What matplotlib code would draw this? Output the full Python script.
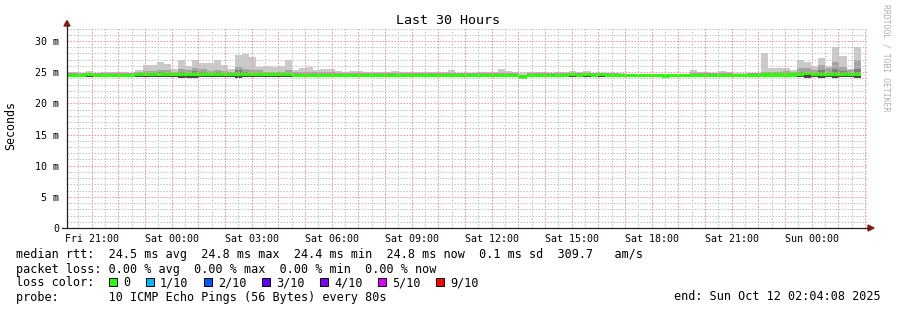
import matplotlib
matplotlib.use("Agg")
import matplotlib.pyplot as plt
from matplotlib.patches import Rectangle, Polygon
from matplotlib.lines import Line2D

W, H = 897, 310
MONO = "DejaVu Sans Mono"

# smokeping rtt data, 16 min buckets, values in ms
# first bucket starts 0.1 h before the graph start (Fri 20:04:08)
bar_start = -0.1
bar_step = 16 / 60.0

med = [24.5, 24.5, 24.5, 24.6, 24.5, 24.5, 24.5, 24.5, 24.5, 24.5,
       24.6, 24.6, 24.6, 24.6, 24.6, 24.6, 24.6, 24.6, 24.6, 24.6,
       24.6, 24.6, 24.6, 24.6, 24.6, 24.6, 24.6, 24.6, 24.6, 24.6,
       24.6, 24.6, 24.5, 24.5, 24.5, 24.5, 24.5, 24.5, 24.5, 24.5,
       24.5, 24.5, 24.5, 24.5, 24.5, 24.5, 24.5, 24.5, 24.5, 24.5,
       24.5, 24.5, 24.5, 24.5, 24.5, 24.5, 24.5, 24.5, 24.5, 24.5,
       24.5, 24.5, 24.5, 24.5, 24.2, 24.5, 24.5, 24.5, 24.5, 24.5,
       24.5, 24.65, 24.5, 24.65, 24.5, 24.65, 24.5, 24.5, 24.5, 24.5,
       24.5, 24.5, 24.5, 24.5, 24.4, 24.5, 24.5, 24.5, 24.5, 24.5,
       24.5, 24.45, 24.45, 24.45, 24.45, 24.45, 24.45, 24.45, 24.55, 24.55,
       24.55, 24.55, 24.55, 24.6, 24.75, 24.6, 24.6, 24.6, 24.6, 24.6,
       24.6, 24.6]

hi = [25.0, 25.0, 24.9, 25.2, 24.9, 25.0, 25.0, 25.1, 25.0, 24.9,
      25.4, 26.1, 26.2, 26.7, 26.3, 25.5, 26.9, 26.0, 27.0, 26.5,
      26.4, 27.0, 26.1, 25.5, 27.8, 27.9, 27.5, 25.9, 26.0, 25.9,
      26.0, 27.0, 25.3, 25.7, 25.8, 25.4, 25.5, 25.5, 25.2, 25.1,
      25.2, 25.2, 25.1, 25.0, 25.1, 25.1, 25.2, 25.1, 25.1, 25.1,
      25.0, 25.0, 25.1, 25.0, 25.4, 24.9, 24.9, 24.9, 25.0, 25.1,
      25.1, 25.5, 25.2, 25.1, 24.8, 25.0, 25.1, 25.0, 24.9, 25.1,
      25.0, 25.2, 25.1, 25.2, 24.9, 24.9, 24.9, 24.9, 24.8, 24.7,
      24.7, 24.7, 24.7, 24.7, 24.7, 24.7, 24.7, 24.7, 25.4, 25.0,
      25.0, 24.9, 25.2, 25.0, 24.8, 24.8, 24.9, 24.9, 28.1, 25.6,
      25.7, 25.7, 25.3, 26.9, 26.6, 26.0, 27.3, 26.0, 29.1, 27.6,
      25.5, 29.1]

mid = [24.8, 24.8, 24.8, 24.9, 24.8, 24.8, 24.8, 24.8, 24.8, 24.8,
       25.0, 25.2, 25.2, 25.4, 25.3, 25.1, 25.5, 25.3, 25.6, 25.5,
       25.2, 25.3, 25.2, 25.0, 25.9, 25.5, 25.3, 25.3, 25.1, 25.0,
       25.0, 25.3, 25.0, 25.0, 25.0, 25.0, 25.0, 25.0, 24.9, 24.8,
       24.8, 24.8, 24.8, 24.8, 24.8, 24.8, 24.9, 24.8, 24.8, 24.8,
       24.8, 24.8, 24.8, 24.8, 24.9, 24.8, 24.8, 24.8, 24.8, 24.8,
       24.8, 24.9, 24.8, 24.8, 24.6, 24.8, 24.8, 24.8, 24.8, 24.8,
       24.8, 24.9, 24.8, 24.9, 24.8, 24.8, 24.8, 24.8, 24.7, 24.7,
       24.7, 24.7, 24.7, 24.7, 24.7, 24.7, 24.7, 24.7, 24.9, 24.8,
       24.8, 24.8, 24.9, 24.8, 24.7, 24.7, 24.8, 24.8, 25.0, 25.0,
       25.1, 25.2, 25.0, 25.7, 25.6, 25.4, 26.2, 25.7, 26.7, 25.8,
       25.3, 26.9]

dk = [24.7, 24.7, 24.7, 24.8, 24.7, 24.7, 24.7, 24.7, 24.7, 24.7,
      24.8, 24.9, 24.9, 25.0, 24.9, 24.8, 25.1, 24.9, 25.2, 25.0,
      24.9, 25.0, 24.9, 24.8, 25.3, 25.0, 24.9, 24.9, 24.8, 24.8,
      24.8, 24.9, 24.7, 24.7, 24.7, 24.7, 24.7, 24.7, 24.7, 24.7,
      24.7, 24.7, 24.7, 24.7, 24.7, 24.7, 24.7, 24.7, 24.7, 24.7,
      24.7, 24.7, 24.7, 24.7, 24.7, 24.7, 24.7, 24.7, 24.7, 24.7,
      24.7, 24.7, 24.7, 24.7, 24.4, 24.7, 24.7, 24.7, 24.7, 24.7,
      24.7, 24.8, 24.7, 24.8, 24.7, 24.8, 24.7, 24.7, 24.7, 24.7,
      24.7, 24.7, 24.7, 24.7, 24.6, 24.7, 24.7, 24.7, 24.7, 24.7,
      24.7, 24.6, 24.6, 24.6, 24.6, 24.6, 24.6, 24.6, 24.8, 24.8,
      24.8, 24.8, 24.8, 25.1, 25.0, 24.9, 25.3, 24.9, 25.5, 25.2,
      24.9, 25.5]

lo = [24.3, 24.3, 24.3, 24.3, 24.3, 24.3, 24.3, 24.3, 24.3, 24.3,
      24.3, 24.3, 24.3, 24.2, 24.3, 24.3, 24.1, 24.1, 24.1, 24.2,
      24.3, 24.2, 24.3, 24.3, 24.1, 24.2, 24.3, 24.3, 24.3, 24.3,
      24.3, 24.2, 24.3, 24.3, 24.3, 24.3, 24.3, 24.3, 24.3, 24.3,
      24.3, 24.3, 24.3, 24.3, 24.3, 24.3, 24.3, 24.3, 24.3, 24.3,
      24.3, 24.3, 24.3, 24.3, 24.3, 24.3, 24.3, 24.3, 24.3, 24.3,
      24.3, 24.3, 24.3, 24.3, 23.95, 24.3, 24.3, 24.3, 24.3, 24.3,
      24.3, 24.3, 24.3, 24.3, 24.3, 24.3, 24.3, 24.3, 24.3, 24.3,
      24.3, 24.3, 24.3, 24.3, 24.2, 24.3, 24.3, 24.3, 24.3, 24.3,
      24.3, 24.25, 24.25, 24.25, 24.25, 24.25, 24.25, 24.25, 24.3, 24.3,
      24.3, 24.3, 24.3, 24.2, 24.1, 24.2, 24.1, 24.2, 24.0, 24.2,
      24.2, 24.0]

# x axis: hours since Fri 20:04:08
tick_hours = [0.931 + 3 * i for i in range(10)]
tick_labels = ["Fri 21:00", "Sat 00:00", "Sat 03:00", "Sat 06:00", "Sat 09:00",
               "Sat 12:00", "Sat 15:00", "Sat 18:00", "Sat 21:00", "Sun 00:00"]
y_ticks = [0, 5, 10, 15, 20, 25, 30]
y_labels = ["0", "5 m", "10 m", "15 m", "20 m", "25 m", "30 m"]

loss_labels = ["0", "1/10", "2/10", "3/10", "4/10", "5/10", "9/10"]
loss_colors = ["#26ff00", "#00b8ff", "#0059ff", "#5e00ff", "#7e00ff", "#dd00ff", "#ff0000"]
loss_box_x = [108, 145, 203, 261, 319, 377, 435]


def fx(px):
    return px / W


def fy(py):
    return 1 - py / H


fig = plt.figure(figsize=(W / 100, H / 100), dpi=100)
fig.patch.set_facecolor("white")
ax = fig.add_axes([fx(67), fy(228), 800 / W, 200 / H])
ax.set_xlim(0, 30)
ax.set_ylim(0, 32.09)
for s in ax.spines.values():
    s.set_visible(False)

t = [bar_start + k * bar_step for k in range(len(med))]
kw = dict(width=bar_step, align="edge", linewidth=0, antialiased=False)
ax.bar(t, [h - l for h, l in zip(hi, lo)], bottom=lo, color="#cacaca", zorder=2, **kw)
ax.bar(t, [m - l for m, l in zip(mid, lo)], bottom=lo, color="#a4a4a4", zorder=2, **kw)
ax.bar(t, [d - l for d, l in zip(dk, lo)], bottom=lo, color="#7e7e7e", zorder=2, **kw)
ax.bar(t, [m - l for m, l in zip(med, lo)], bottom=lo, color="#484848", zorder=2, **kw)
ax.bar(t, 0.54, bottom=[m - 0.27 for m in med], color="#26ff00", zorder=3, **kw)

# grid on top, dotted like rrdtool
dots = (0, (1.5, 1.5))
gkw = dict(lw=0.72, ls=dots)
for h in [0.431 + 0.5 * i for i in range(60)]:
    if h < 30:
        ax.axvline(h, color="#c4c4c4", zorder=4, **gkw)
for v in range(1, 33):
    if v % 5:
        ax.axhline(v, color="#c4c4c4", zorder=4, **gkw)
for h in [0.931 + i for i in range(30)]:
    ax.axvline(h, color="#f09a9a", zorder=5, **gkw)
for v in range(5, 33, 5):
    ax.axhline(v, color="#f09a9a", zorder=5, **gkw)

ax.set_xticks(tick_hours)
ax.set_xticklabels(tick_labels, family=MONO, fontsize=7.2)
ax.set_yticks(y_ticks)
ax.set_yticklabels(y_labels, family=MONO, fontsize=7.2)
ax.tick_params(axis="x", length=0, pad=4)
ax.tick_params(axis="y", length=0, pad=5.5)

# axes with arrows
axc = "#222222"
fig.add_artist(Line2D([fx(67), fx(67)], [fy(228), fy(25)], color=axc, lw=0.9))
fig.add_artist(Line2D([fx(62), fx(869)], [fy(228), fy(228)], color=axc, lw=0.9))
arrow_c = "#8b1a1a"
fig.add_artist(Polygon([(fx(64), fy(26)), (fx(70), fy(26)), (fx(67), fy(20.5))],
                       closed=True, color=arrow_c))
fig.add_artist(Polygon([(fx(868), fy(225)), (fx(868), fy(231)), (fx(874), fy(228))],
                       closed=True, color=arrow_c))

fig.text(fx(448), fy(24), "Last 30 Hours", family=MONO, fontsize=9.6, ha="center", va="baseline")
fig.text(fx(11), fy(126), "Seconds", family=MONO, fontsize=8.4, rotation=90, ha="center", va="center")
fig.text(fx(886), fy(4), "RRDTOOL / TOBI OETIKER", family=MONO, fontsize=5.9, rotation=270,
         ha="center", va="top", color="#b0b0b0")

fs = 8.5
fig.text(fx(16), fy(258), "median rtt:  24.5 ms avg  24.8 ms max  24.4 ms min  24.8 ms now  0.1 ms sd  309.7   am/s",
         family=MONO, fontsize=fs, va="baseline")
fig.text(fx(16), fy(272.5), "packet loss: 0.00 % avg  0.00 % max  0.00 % min  0.00 % now",
         family=MONO, fontsize=fs, va="baseline")
fig.text(fx(16), fy(286.5), "loss color:", family=MONO, fontsize=fs, va="baseline")
for bx, lab, col in zip(loss_box_x, loss_labels, loss_colors):
    fig.add_artist(Rectangle((fx(bx + 0.5), fy(286)), 8 / W, 8 / H, facecolor=col,
                             edgecolor="black", lw=0.7))
    fig.text(fx(bx + 15), fy(286.5), lab, family=MONO, fontsize=fs, va="baseline")
fig.text(fx(16), fy(300.5), "probe:       10 ICMP Echo Pings (56 Bytes) every 80s",
         family=MONO, fontsize=fs, va="baseline")
fig.text(fx(881), fy(300.5), "end: Sun Oct 12 02:04:08 2025", family=MONO, fontsize=fs,
         ha="right", va="baseline")

fig.savefig("out.png", dpi=100, facecolor="white")
